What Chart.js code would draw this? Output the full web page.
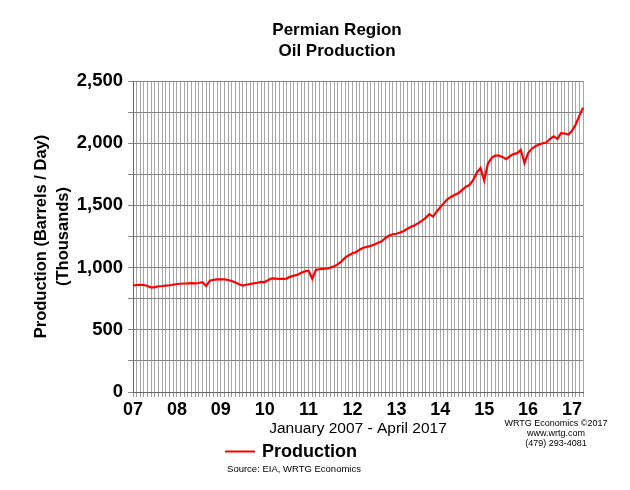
<!DOCTYPE html>
<html>
<head>
<meta charset="utf-8">
<script src="https://cdn.jsdelivr.net/npm/chart.js@4.4.1/dist/chart.umd.min.js"></script>
<style>
  body { margin: 0; background: #fff; font-family: "Liberation Sans", Arial, sans-serif; }
  #wrap { position: relative; width: 630px; height: 490px; }
  #chart { position: absolute; left: 0; top: 0; }
  .txt { position: absolute; color: #000; white-space: nowrap; transform: translate(-50%, -50%); text-align: center; }
  #title { left: 337px; top: 40px; font: bold 17px/21px "Liberation Sans", Arial, sans-serif; }
  #legend { left: 291px; top: 451px; font: bold 18px "Liberation Sans", Arial, sans-serif; }
  #legend span { display: inline-block; width: 30px; height: 2px; background: #ff0000; vertical-align: middle; margin-right: 7px; }
  #source { left: 294px; top: 468px; font: 9.5px "Liberation Sans", Arial, sans-serif; }
  #credit { left: 556px; top: 433px; font: 9px/10px "Liberation Sans", Arial, sans-serif; }
</style>
</head>
<body>
<div id="wrap">
  <canvas id="chart" width="630" height="490"></canvas>
  <div class="txt" id="title">Permian Region<br>Oil Production</div>
  <div class="txt" id="legend"><span></span>Production</div>
  <div class="txt" id="source">Source: EIA, WRTG Economics</div>
  <div class="txt" id="credit">WRTG Economics ©2017<br>www.wrtg.com<br>(479) 293-4081</div>
</div>
<script>
// Data: monthly, January 2007 - April 2017 (thousand barrels / day)
const years = ["07", "08", "09", "10", "11", "12", "13", "14", "15", "16", "17"];
const monthNames = ["Jan", "Feb", "Mar", "Apr", "May", "Jun", "Jul", "Aug", "Sep", "Oct", "Nov", "Dec"];
const lastMonths = 4; // 2017 runs to April

const production = [
  // 2007
  855, 860, 862, 860, 852, 840, 843, 850, 852, 855, 858, 862,
  // 2008
  868, 870, 872, 873, 875, 874, 876, 882, 852, 895, 902, 905,
  // 2009
  906, 905, 900, 892, 880, 866, 856, 862, 868, 873, 878, 885,
  // 2010
  884, 900, 914, 911, 909, 910, 912, 928, 935, 942, 958, 970,
  // 2011
  975, 910, 982, 987, 990, 993, 1000, 1010, 1028, 1050, 1080, 1100,
  // 2012
  1115, 1125, 1145, 1160, 1168, 1175, 1185, 1200, 1212, 1238, 1258, 1268,
  // 2013
  1272, 1282, 1295, 1312, 1328, 1340, 1358, 1378, 1400, 1430, 1410, 1450,
  // 2014
  1485, 1520, 1550, 1570, 1585, 1600, 1625, 1650, 1665, 1705, 1765, 1800,
  // 2015
  1700, 1835, 1880, 1900, 1900, 1890, 1872, 1895, 1912, 1920, 1945, 1840,
  // 2016
  1920, 1955, 1975, 1990, 2000, 2005, 2035, 2055, 2035, 2080, 2078, 2070,
  // 2017
  2100, 2150, 2220, 2285
];

const yTicks = [0, 500, 1000, 1500, 2000, 2500];

// month labels
const months = [];
years.forEach((y, yi) => {
  const n = yi === years.length - 1 ? lastMonths : 12;
  for (let m = 0; m < n; m++) months.push(monthNames[m] + " " + y);
});

const font = "'Liberation Sans', Arial, sans-serif";

const ctx = document.getElementById("chart").getContext("2d");
const chart = new Chart(ctx, {
  type: "line",
  data: {
    labels: months,
    datasets: [{
      label: "Production",
      data: production,
      borderColor: "#ff0000",
      borderWidth: 2.2,
      pointRadius: 0,
      tension: 0,
      fill: false
    }]
  },
  options: {
    responsive: false,
    animation: false,
    layout: { padding: { top: 81, right: 47, bottom: 48, left: 0 } },
    plugins: {
      legend: { display: false },
      title: { display: false },
      tooltip: { enabled: false }
    },
    scales: {
      x: {
        type: "category",
        offset: false,
        grid: { color: "#a8a8a8", lineWidth: 1, tickLength: 5, tickColor: "#999" },
        border: { color: "#666", width: 1 },
        ticks: {
          autoSkip: false,
          maxRotation: 0,
          padding: 2,
          color: "#000",
          font: { family: font, size: 18, weight: "bold" },
          callback: (v, i) => (i % 12 === 0 ? years[i / 12] : "")
        },
        title: {
          display: true,
          text: "January 2007 - April 2017",
          color: "#000",
          font: { family: font, size: 15.5 },
          padding: { top: 0, bottom: 4 }
        },
        afterFit: s => { s.height = 50; }
      },
      y: {
        min: 0,
        max: 2500,
        grid: { color: "#858585", lineWidth: 1, tickLength: 5, tickColor: "#888" },
        border: { color: "#666", width: 1 },
        ticks: {
          stepSize: 250,
          padding: 5,
          color: "#000",
          font: { family: font, size: 18.5, weight: "bold" },
          callback: v => (yTicks.includes(v) ? v.toLocaleString("en-US") : "")
        },
        title: {
          display: true,
          text: ["Production (Barrels / Day)", "(Thousands)"],
          color: "#000",
          font: { family: font, size: 16.5, weight: "bold", lineHeight: 1.3 },
          padding: { top: 31, bottom: 0 }
        },
        afterFit: s => { s.width = 133; }
      }
    }
  }
});
</script>
</body>
</html>
